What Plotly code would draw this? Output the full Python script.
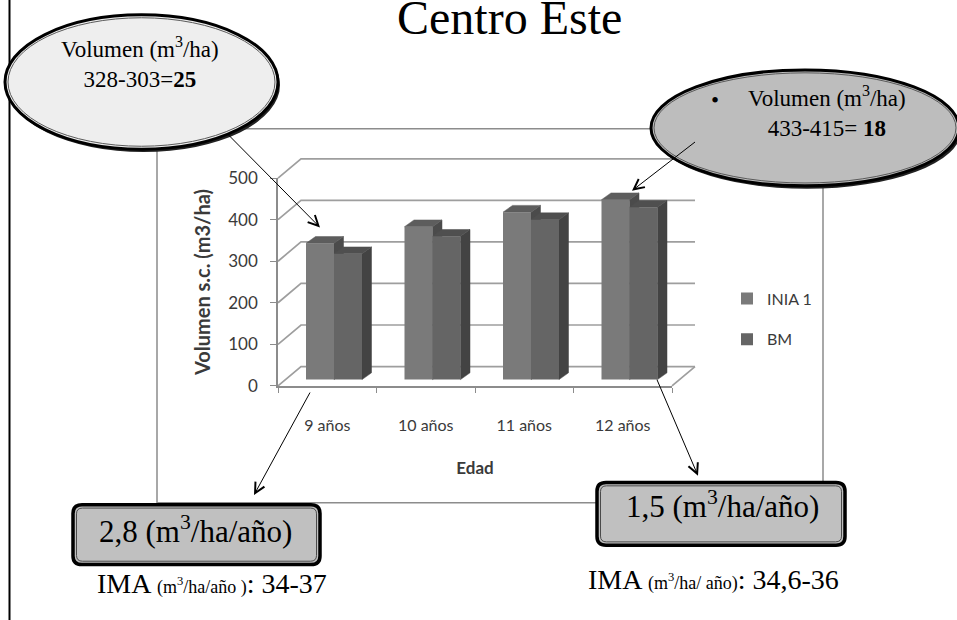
import plotly.graph_objects as go

# ---- data -------------------------------------------------------------
edades = ["9 años", "10 años", "11 años", "12 años"]
inia1 = [328, 368, 403, 433]
bm = [303, 345, 385, 415]
y_ticks = [0, 100, 200, 300, 400, 500]
series_names = ["INIA 1", "BM"]

# ---- page geometry ----------------------------------------------------
W, H = 957, 620


def fx(px):
    return px / W


def fy(py):
    return 1 - py / H


# front box of the 3-D column chart, in pixels
AX_L, AX_R = 278, 672
AX_T, AX_B = 173, 388
Y_MAX = 500
N = len(edades)
ux = N / (AX_R - AX_L)        # category units per pixel
uy = Y_MAX / (AX_B - AX_T)    # value units per pixel

FLOOR_DX, FLOOR_DY = 23 * ux, 20 * uy   # depth of floor / walls
BAR_DX, BAR_DY = 9.5 * ux, 7 * uy       # depth of each column
OFF_X = (FLOOR_DX - BAR_DX) / 2
OFF_Y = (FLOOR_DY - BAR_DY) / 2
BAR_W = 28 * ux

GRID = "#9e9e9e"
TXT = "#3a3a3a"
SANS = "Lato"
SERIF = "Liberation Serif"

front_cols = ["#7a7a7a", "#656565"]
top_cols = ["#5d5d5d", "#4f4f4f"]
side_cols = ["#4b4b4b", "#434343"]

fig = go.Figure()

# ---- walls and floor (drawing canvas on x/y) --------------------------
gx, gy = [], []
for v in y_ticks:
    gx += [-0.5, -0.5 + FLOOR_DX, N - 0.5 + FLOOR_DX, None]
    gy += [v, v + FLOOR_DY, v + FLOOR_DY, None]
gx += [N - 0.5, N - 0.5 + FLOOR_DX, None]
gy += [0, FLOOR_DY, None]
fig.add_trace(go.Scatter(x=gx, y=gy, mode="lines", xaxis="x", yaxis="y",
                         line=dict(color=GRID, width=1.7),
                         hoverinfo="skip", showlegend=False))

# ---- column tops and sides -------------------------------------------
for i in range(N):
    for s, vals in enumerate([inia1, bm]):
        v = vals[i]
        xl = i + OFF_X + (s - 1) * BAR_W
        xr = xl + BAR_W
        base = OFF_Y
        top = OFF_Y + v
        # side face
        fig.add_trace(go.Scatter(
            x=[xr, xr, xr + BAR_DX, xr + BAR_DX, xr],
            y=[base, top, top + BAR_DY, base + BAR_DY, base],
            mode="lines", fill="toself", fillcolor=side_cols[s],
            line=dict(color=side_cols[s], width=0.5),
            xaxis="x", yaxis="y", hoverinfo="skip", showlegend=False))
        # top face
        fig.add_trace(go.Scatter(
            x=[xl, xr, xr + BAR_DX, xl + BAR_DX, xl],
            y=[top, top, top + BAR_DY, top + BAR_DY, top],
            mode="lines", fill="toself", fillcolor=top_cols[s],
            line=dict(color=top_cols[s], width=0.5),
            xaxis="x", yaxis="y", hoverinfo="skip", showlegend=False))

# ---- column fronts on the visible axes (x2/y2) ------------------------
for s, vals in enumerate([inia1, bm]):
    fig.add_trace(go.Bar(
        x=edades, y=vals, base=OFF_Y, name=series_names[s],
        offset=OFF_X + (s - 1) * BAR_W, width=BAR_W,
        marker=dict(color=front_cols[s], line=dict(width=0)),
        xaxis="x2", yaxis="y2", legendgroup=series_names[s]))

# ---- shapes: border, frame, callout ellipses and boxes ---------------
shapes = []
shapes.append(dict(type="rect", xref="paper", yref="paper", layer="below",
                   x0=fx(157), x1=fx(823), y0=fy(509), y1=fy(122),
                   line=dict(color="#8c8c8c", width=1.5)))
shapes.append(dict(type="line", xref="paper", yref="paper",
                   x0=fx(9.5), x1=fx(9.5), y0=-0.05, y1=1.05,
                   line=dict(color="black", width=2)))


def ellipse(x0, y0, x1, y1, fill):
    out = [
        dict(type="circle", xref="paper", yref="paper",
             x0=fx(x0 + 2), x1=fx(x1 + 2), y0=fy(y1 + 3), y1=fy(y0 + 3),
             fillcolor="#222222", line=dict(width=0)),
        dict(type="circle", xref="paper", yref="paper",
             x0=fx(x0), x1=fx(x1), y0=fy(y1), y1=fy(y0),
             fillcolor=fill, line=dict(color="black", width=3)),
        dict(type="circle", xref="paper", yref="paper",
             x0=fx(x0 + 3), x1=fx(x1 - 3), y0=fy(y1 - 3), y1=fy(y0 + 3),
             line=dict(color="#5a5a5a", width=1)),
    ]
    return out


def rounded(x0, y0, x1, y1, r):
    p = (f"M {fx(x0 + r)},{fy(y0)} L {fx(x1 - r)},{fy(y0)} "
         f"Q {fx(x1)},{fy(y0)} {fx(x1)},{fy(y0 + r)} "
         f"L {fx(x1)},{fy(y1 - r)} Q {fx(x1)},{fy(y1)} {fx(x1 - r)},{fy(y1)} "
         f"L {fx(x0 + r)},{fy(y1)} Q {fx(x0)},{fy(y1)} {fx(x0)},{fy(y1 - r)} "
         f"L {fx(x0)},{fy(y0 + r)} Q {fx(x0)},{fy(y0)} {fx(x0 + r)},{fy(y0)} Z")
    return p


def box(x0, y0, x1, y1):
    return [
        dict(type="path", xref="paper", yref="paper", path=rounded(x0, y0, x1, y1, 9),
             fillcolor="#c0c0c0", line=dict(color="black", width=3.5)),
        dict(type="path", xref="paper", yref="paper",
             path=rounded(x0 + 3.5, y0 + 3.5, x1 - 3.5, y1 - 3.5, 6),
             line=dict(color="#4a4a4a", width=1)),
    ]


shapes += ellipse(5, 4, 278, 143, "#eeeeee")
shapes += ellipse(651, 61, 959, 181, "#bdbdbd")
shapes += box(73, 511, 320, 573)
shapes += box(597, 488, 845, 553)

# ---- text -------------------------------------------------------------
ann = []


def text(x, y, t, size):
    ann.append(dict(xref="paper", yref="paper", x=fx(x), y=fy(y), text=t,
                    showarrow=False, xanchor="center", yanchor="middle",
                    font=dict(family=SERIF, size=size, color="black")))


text(509, 7, "Centro Este", 48)
text(140, 53, "Volumen (m<sup>3</sup>/ha)<br>328-303=<b>25</b>", 23)
text(715, 93, "•", 23)
text(827, 104, "Volumen (m<sup>3</sup>/ha)<br>433-415= <b>18</b>", 23)
text(195, 537, "2,8 (m<sup>3</sup>/ha/año)", 31)
text(722, 511, "1,5 (m<sup>3</sup>/ha/año)", 31)
text(212, 593, "IMA <span style='font-size:18px'>(m<sup>3</sup>/ha/año )</span>: 34-37", 28)
text(713, 588, "IMA <span style='font-size:18px'>(m<sup>3</sup>/ha/ año)</span>: 34,6-36", 28)


def arrow(tip, tail):
    ann.append(dict(xref="paper", yref="paper", x=fx(tip[0]), y=fy(tip[1]),
                    ax=tail[0] - tip[0], ay=tail[1] - tip[1], text=" ",
                    showarrow=True, arrowhead=5, arrowsize=2, arrowwidth=1,
                    arrowcolor="black", standoff=0, startstandoff=0))


arrow((320, 224), (225, 128))
arrow((632, 186), (698, 135))
arrow((254, 501), (313, 393))
arrow((698, 481), (654, 378))

fig.update_layout(
    width=W, height=H, margin=dict(l=0, r=0, t=0, b=0),
    paper_bgcolor="white", plot_bgcolor="rgba(0,0,0,0)",
    barmode="overlay", showlegend=True,
    shapes=shapes, annotations=ann,
    legend=dict(x=fx(727), y=fy(280), xanchor="left", yanchor="top",
                font=dict(family=SANS, size=16, color=TXT),
                traceorder="grouped", tracegroupgap=17,
                bgcolor="rgba(0,0,0,0)"),
    xaxis=dict(domain=[0, 1], range=[-0.5 - AX_L * ux, -0.5 + (W - AX_L) * ux],
               visible=False, fixedrange=True),
    yaxis=dict(domain=[0, 1], range=[(AX_B - H) * uy, AX_B * uy],
               visible=False, fixedrange=True),
    xaxis2=dict(domain=[fx(AX_L), fx(AX_R)], anchor="y2", type="category",
                categoryorder="array", categoryarray=edades,
                range=[-0.5, N - 0.5], tickson="boundaries",
                ticks="outside", ticklen=5, tickcolor="#8c8c8c",
                showline=True, linecolor="#8c8c8c", linewidth=1.5,
                showgrid=False, zeroline=False, fixedrange=True,
                ticklabelstandoff=24,
                tickfont=dict(family=SANS, size=16, color=TXT),
                title=dict(text="<b>Edad</b>", standoff=29,
                           font=dict(family=SANS, size=17, color=TXT))),
    yaxis2=dict(domain=[fy(AX_B), fy(AX_T)], anchor="x2",
                range=[0, Y_MAX], tickvals=y_ticks,
                ticks="outside", ticklen=6, tickcolor="#8c8c8c",
                showline=True, linecolor="#8c8c8c", linewidth=1.5,
                showgrid=False, zeroline=False, fixedrange=True,
                ticklabelstandoff=9,
                tickfont=dict(family=SANS, size=17, color=TXT),
                title=dict(text="<b>Volumen s.c. (m3/ha)</b>", standoff=12,
                           font=dict(family=SANS, size=20, color=TXT))),
)

fig.write_html("out.html")
